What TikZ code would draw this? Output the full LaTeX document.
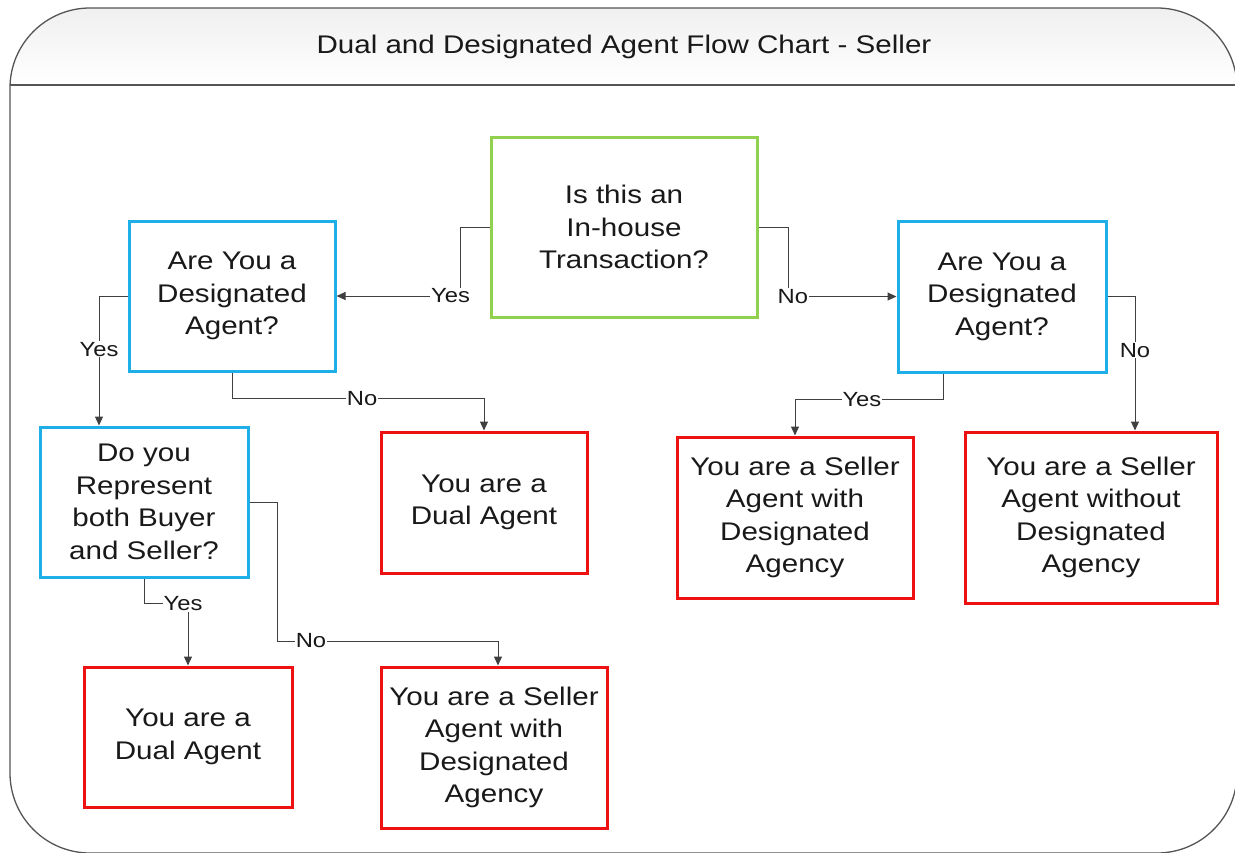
\documentclass[tikz,border=0pt]{standalone}
\usepackage{fontspec}
\setmainfont{Liberation Sans}[FakeStretch=1.16]
\usetikzlibrary{arrows.meta}
\definecolor{gbox}{HTML}{92D050}
\definecolor{bbox}{HTML}{1EAEE8}
\definecolor{rbox}{HTML}{EE1111}
\definecolor{conn}{HTML}{404040}
\definecolor{framec}{HTML}{555555}
\tikzset{
  box/.style={draw, line width=3pt, align=center, inner sep=0pt,
    font=\fontsize{25.5}{32.5}\selectfont, text=black!90},
  arr/.style={draw=conn, line width=1pt, -{Triangle[length=9pt,width=8pt]}},
  lab/.style={fill=white, inner sep=1pt, font=\fontsize{20.5}{23}\selectfont, text=black!90},
}
\begin{document}
\begin{tikzpicture}[x=1pt,y=-1pt]
\useasboundingbox (0,0) rectangle (1235,852);
% frame
\begin{scope}
  \clip[rounded corners=80pt] (10,8) rectangle (1237,853);
  \shade[top color=gray!12, bottom color=white] (10,8) rectangle (1237,85);
\end{scope}
\draw[framec, line width=1.3pt, rounded corners=80pt] (10,8) rectangle (1237,853);
\draw[framec, line width=1.3pt] (10,85) -- (1237,85);
\node[font=\fontsize{25.5}{30}\selectfont, text=black!90] (title) at (624,47) {Dual and Designated Agent Flow Chart - Seller};

% boxes
\node[box, draw=gbox, minimum width=266pt, minimum height=180pt] (inhouse) at (624,227) {Is this an\\In-house\\Transaction?};
\node[box, draw=bbox, minimum width=206pt, minimum height=150pt] (ldes) at (232,296) {Are You a\\Designated\\Agent?};
\node[box, draw=bbox, minimum width=208pt, minimum height=151pt] (rdes) at (1002,296.5) {Are You a\\Designated\\Agent?};
\node[box, draw=bbox, minimum width=208pt, minimum height=150pt] (doyou) at (144,502) {Do you\\Represent\\both Buyer\\and Seller?};
\node[box, draw=rbox, minimum width=206pt, minimum height=141pt] (dual1) at (484,502.5) {You are a\\Dual Agent};
\node[box, draw=rbox, minimum width=236pt, minimum height=161pt] (sellerw) at (795,517.5) {You are a Seller\\Agent with\\Designated\\Agency};
\node[box, draw=rbox, minimum width=252pt, minimum height=171pt] (sellerwo) at (1091,517.5) {You are a Seller\\Agent without\\Designated\\Agency};
\node[box, draw=rbox, minimum width=208pt, minimum height=140pt] (dual2) at (188,737) {You are a\\Dual Agent};
\node[box, draw=rbox, minimum width=226pt, minimum height=161pt] (sellerw2) at (494,747.5) {You are a Seller\\Agent with\\Designated\\Agency};

% connectors
\draw[arr] (inhouse.west) -- ++(-29,0) |- node[lab, pos=0.54] {Yes} (ldes.east);
\draw[arr] (inhouse.east) -- ++(30,0) |- node[lab, pos=0.52] {No} (rdes.west);
\draw[arr] (ldes.west) -| node[lab, pos=0.705] {Yes} ([xshift=-45pt]doyou.north);
\draw[arr] (ldes.south) -- ++(0,26) -| node[lab, pos=0.258] {No} (dual1.north);
\draw[arr] (doyou.east) -- ++(28,0) -- ++(0,139) -| node[lab, pos=0.076] {No} ([xshift=4pt]sellerw2.north);
\draw[arr] (doyou.south) -- ++(0,25) -| node[lab, pos=0.443] {Yes} (dual2.north);
\draw[arr] ([xshift=-59pt]rdes.south) -- ++(0,26) -| node[lab, pos=0.274] {Yes} (sellerw.north);
\draw[arr] (rdes.east) -| node[lab, pos=0.7] {No} ([xshift=44pt]sellerwo.north);
\end{tikzpicture}
\end{document}
